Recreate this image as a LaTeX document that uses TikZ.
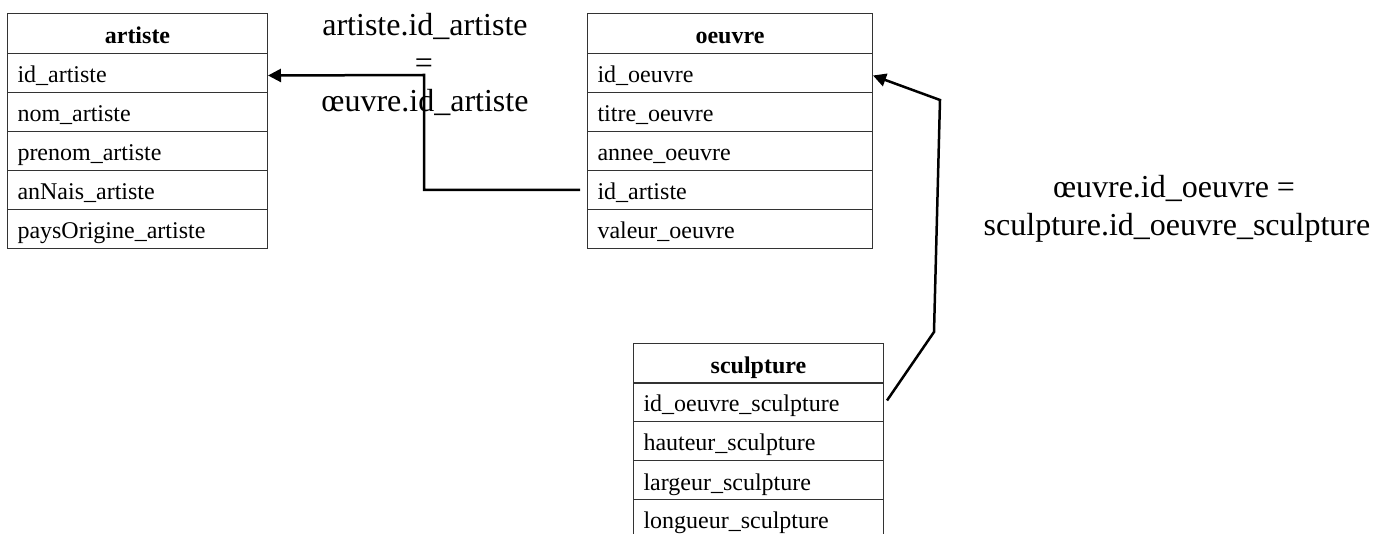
\documentclass[tikz,border=0pt]{standalone}
\usepackage{fontspec}
\setmainfont{Liberation Serif}
\usetikzlibrary{arrows.meta}
\newcommand\tabfont{\fontsize{24}{28}\selectfont}
\newcommand\lblfont{\fontsize{32}{38}\selectfont}
\tikzset{
  cell/.style={draw=black!80, line width=1pt, rectangle, anchor=north west,
    minimum height=39pt, inner xsep=10pt, inner ysep=0pt,
    text height=22pt, text depth=2pt, align=left, font=\tabfont},
  hdr/.style={cell, minimum height=40pt, align=center, font=\tabfont\bfseries},
  conn/.style={line width=2.5pt, -{Triangle[length=13pt,width=13pt]}, line join=miter},
  lbl/.style={anchor=base, inner sep=0pt, font=\lblfont},
}
\begin{document}
\begin{tikzpicture}[x=1pt,y=-1pt]
\useasboundingbox (0,0) rectangle (1385,534);
\clip (0,0) rectangle (1385,534);
% artiste
\node[hdr, text width=240pt] (a0) at (7,13) {artiste};
\node[cell, text width=240pt] (a1) at (7,53) {id\_artiste};
\node[cell, text width=240pt] (a2) at (7,92) {nom\_artiste};
\node[cell, text width=240pt] (a3) at (7,131) {prenom\_artiste};
\node[cell, text width=240pt] (a4) at (7,170) {anNais\_artiste};
\node[cell, text width=240pt] (a5) at (7,209) {paysOrigine\_artiste};
% oeuvre
\node[hdr, text width=265pt] (o0) at (587,13) {oeuvre};
\node[cell, text width=265pt] (o1) at (587,53) {id\_oeuvre};
\node[cell, text width=265pt] (o2) at (587,92) {titre\_oeuvre};
\node[cell, text width=265pt] (o3) at (587,131) {annee\_oeuvre};
\node[cell, text width=265pt] (o4) at (587,170) {id\_artiste};
\node[cell, text width=265pt] (o5) at (587,209) {valeur\_oeuvre};
% sculpture
\node[hdr, text width=230pt] (s0) at (633,343) {sculpture};
\node[cell, text width=230pt] (s1) at (633,382) {id\_oeuvre\_sculpture};
\node[cell, text width=230pt] (s2) at (633,421) {hauteur\_sculpture};
\node[cell, text width=230pt] (s3) at (633,460) {largeur\_sculpture};
\node[cell, text width=230pt] (s4) at (633,499) {longueur\_sculpture};
% labels
\node[lbl] (l1) at (425,36) {artiste.id\_artiste};
\node[lbl] (l2) at (424,74) {=};
\node[lbl] (l3) at (425,112) {œuvre.id\_artiste};
\node[lbl] (r1) at (1174,198) {œuvre.id\_oeuvre =};
\node[lbl] (r2) at (1177,236) {sculpture.id\_oeuvre\_sculpture};
% connectors
\coordinate (c1) at (424,75);
\coordinate (c2) at (934,332);
\coordinate (c3) at (940,100);
\draw[conn] ([xshift=-7pt]o4.west) -| (c1) -- ([yshift=-2.5pt]a1.east);
\draw[conn] ([xshift=3pt,yshift=1.5pt]s1.east) -- (c2) -- (c3) -- ([yshift=-2.5pt]o1.east);
\end{tikzpicture}
\end{document}
